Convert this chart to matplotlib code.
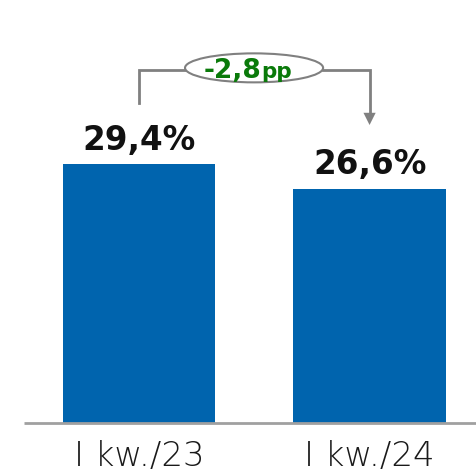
import matplotlib.pyplot as plt
from matplotlib.patches import Ellipse, FancyArrowPatch

categories = ["I kw./23", "I kw./24"]
values = [29.4, 26.6]
value_labels = ["29,4%", "26,6%"]
change_num = "-2,8"
change_unit = "pp"

BAR_COLOR = "#0064AE"
GRAY = "#808080"
GREEN = "#0A7A0A"
FONT = "DejaVu Sans"

fig = plt.figure(figsize=(4.77, 4.70), dpi=100)
ax = fig.add_axes([0, 0, 1, 1])
ax.set_xlim(-0.603, 1.466)
ax.set_ylim(-5.33, 48.0)
ax.axis("off")

x = list(range(len(categories)))
ax.bar(x, values, width=0.66, color=BAR_COLOR, zorder=2)
ax.plot([-0.5, 1.466], [0, 0], color="#A0A0A0", lw=2, zorder=3, solid_capstyle="butt")

for xi, v, lab in zip(x, values, value_labels):
    ax.text(xi, v + 1.6, lab, ha="center", va="baseline", fontsize=23.5,
            fontweight="bold", family=FONT, color="#111111")

for xi, cat in zip(x, categories):
    ax.text(xi, -4.85, cat, ha="center", va="baseline", fontsize=24.5,
            fontweight="light", family=FONT, color="#1A1A1A")

# bracket showing the change between the two periods
y_top = 40.07
mid_x = 0.499
ell_w, ell_h = 0.599, 3.29
ax.plot([0, 0, mid_x - ell_w / 2], [36.3, y_top, y_top],
        color=GRAY, lw=2, solid_joinstyle="miter", zorder=3)
ax.plot([mid_x + ell_w / 2, 1, 1], [y_top, y_top, 35.0],
        color=GRAY, lw=2, solid_joinstyle="miter", zorder=3)
ax.add_patch(FancyArrowPatch((1, 35.2), (1, 33.5), arrowstyle="-|>",
                             mutation_scale=22, color=GRAY, lw=0, zorder=3))
ax.add_patch(Ellipse((mid_x, 40.3), ell_w, ell_h, facecolor="white",
                     edgecolor=GRAY, lw=1.5, zorder=4))
ax.text(0.529, 39.15, change_num, ha="right", va="baseline", fontsize=19,
        fontweight="bold", family=FONT, color=GREEN, zorder=5)
ax.text(0.529, 39.15, change_unit, ha="left", va="baseline", fontsize=15.5,
        fontweight="bold", family=FONT, color=GREEN, zorder=5)

fig.savefig("out.png", dpi=100)
